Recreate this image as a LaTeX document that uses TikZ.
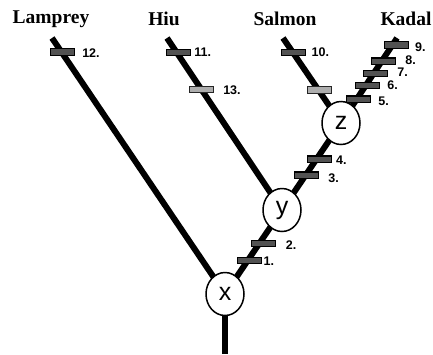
\documentclass[tikz,border=0pt]{standalone}
\usepackage{fontspec}
\setmainfont{Liberation Serif}
\setsansfont{Liberation Sans}
\usetikzlibrary{shapes.geometric,calc}
\tikzset{
  branch/.style={line width=6pt, line cap=butt},
  clade/.style={ellipse, draw, line width=1.5pt, fill=white, minimum width=38pt, minimum height=43pt, inner sep=0pt, font=\sffamily\fontsize{25}{25}\selectfont},
  taxon/.style={font=\bfseries\fontsize{19.5}{19.5}\selectfont, inner sep=0pt},
  darkbar/.style={draw=black, line width=1.1pt, fill=black!68, minimum width=24pt, minimum height=6.5pt, inner sep=0pt},
  lightbar/.style={draw=black!85, line width=1.1pt, fill=black!32, minimum width=24pt, minimum height=6.5pt, inner sep=0pt},
  num/.style={font=\sffamily\bfseries\fontsize{12.5}{12.5}\selectfont, anchor=west, inner sep=0pt},
}
\begin{document}
\begin{tikzpicture}[x=1pt,y=-1pt]
\useasboundingbox (0,0) rectangle (433,354);
% tops
\coordinate (tl) at (52,38);
\coordinate (th) at (167,38);
\coordinate (ts) at (283,38);
\coordinate (tk) at (397,38);
\coordinate (root) at (225,354);
\coordinate (cx) at (225,294);
\coordinate (cy) at (282,210);
\coordinate (cz) at (341,123);
% branches
\draw[branch] (cx) -- (root);
\draw[branch] (tl) -- (cx);
\draw[branch] (th) -- (cy);
\draw[branch] (ts) -- (cz);
\draw[branch] (cx) -- (cy) -- (cz) -- (tk);
% nodes
\node[clade] (x) at (cx) {x};
\node[clade] (y) at (cy) {y};
\node[clade] (z) at (cz) {z};
% taxa
\node[taxon] (lam) at (51,19) {Lamprey};
\node[taxon] (hiu) at (164,19) {Hiu};
\node[taxon] (sal) at (285,19) {Salmon};
\node[taxon] (kad) at (406,19) {Kadal};
% bars
\path (tl) -- (cx) node[darkbar, pos=0.055, xshift=1pt] (b12) {};
\path (th) -- (cy) node[darkbar, pos=0.084, xshift=2pt] (b11) {}
                   node[lightbar, pos=0.30] (b13) {};
\path (ts) -- (cz) node[darkbar, pos=0.17, xshift=1pt] (b10) {}
                   node[lightbar, pos=0.61, xshift=1pt] (b14) {};
\path (cz) -- (tk) node[darkbar, pos=0.28, xshift=2pt] (b5) {}
                   node[darkbar, pos=0.44, xshift=2pt] (b6) {}
                   node[darkbar, pos=0.583, xshift=2pt] (b7) {}
                   node[darkbar, pos=0.726, xshift=2pt] (b8) {}
                   node[darkbar, pos=0.917, xshift=4pt] (b9) {};
\path (cy) -- (cz) node[darkbar, pos=0.40, xshift=1pt] (b3) {}
                   node[darkbar, pos=0.583, xshift=3pt] (b4) {};
\path (cx) -- (cy) node[darkbar, pos=0.40, xshift=2pt] (b1) {}
                   node[darkbar, pos=0.60, xshift=4pt] (b2) {};
% numbers
\node[num] at ($(b12.east)+(7,1)$) {12.};
\node[num] at ($(b11.east)+(3,0)$) {11.};
\node[num] at ($(b13.east)+(9,1)$) {13.};
\node[num] at ($(b10.east)+(5,0)$) {10.};
\node[num] at ($(b9.east)+(6,2)$) {9.};
\node[num] at ($(b8.east)+(9,-1)$) {8.};
\node[num] at ($(b7.east)+(9,-1)$) {7.};
\node[num] at ($(b6.east)+(7,0)$) {6.};
\node[num] at ($(b5.east)+(7,2)$) {5.};
\node[num] at ($(b4.east)+(4,1)$) {4.};
\node[num] at ($(b3.east)+(9,3)$) {3.};
\node[num] at ($(b2.east)+(10,2)$) {2.};
\node[num] at ($(b1.east)+(1,1)$) {1.};
\end{tikzpicture}
\end{document}
